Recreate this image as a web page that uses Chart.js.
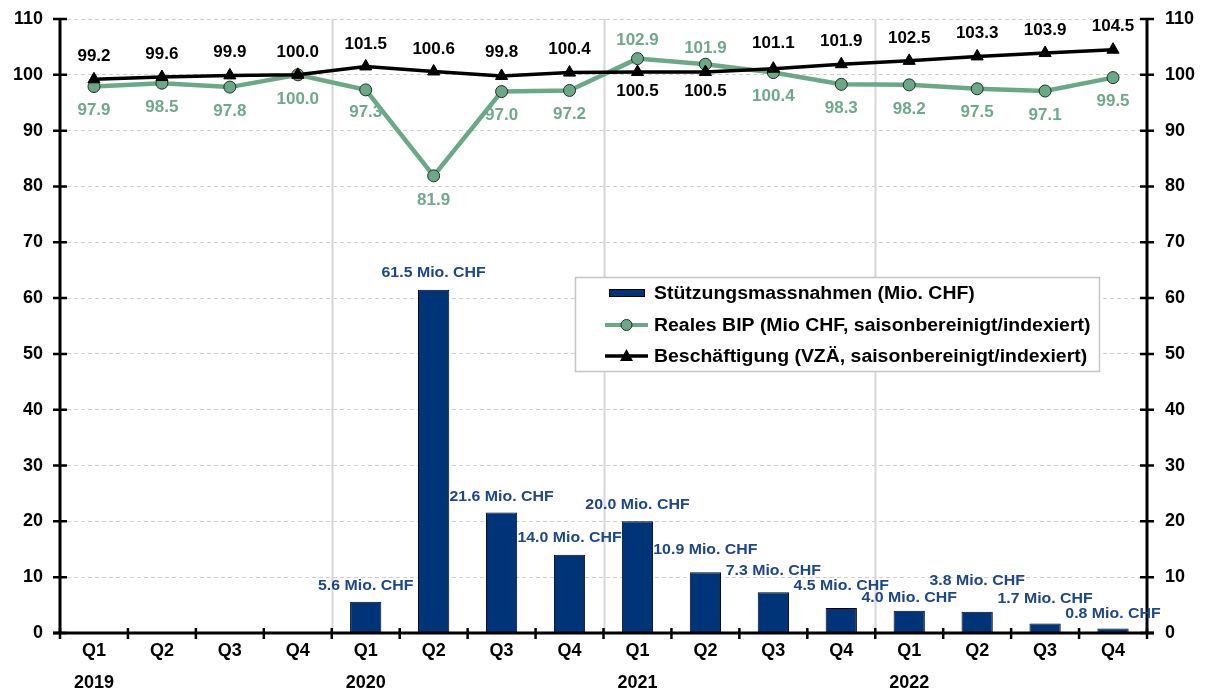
<!DOCTYPE html>
<html>
<head>
<meta charset="utf-8">
<script src="https://cdn.jsdelivr.net/npm/chart.js@4.4.0/dist/chart.umd.min.js"></script>
<style>
  html, body { margin: 0; background: #fff; }
  #wrap { width: 1207px; height: 689px; position: relative; }
</style>
</head>
<body>
<div id="wrap"><canvas id="chart"></canvas></div>
<script>
/* ── Data ───────────────────────────────────────────────────────────── */
const QUARTERS = ['Q1','Q2','Q3','Q4','Q1','Q2','Q3','Q4','Q1','Q2','Q3','Q4','Q1','Q2','Q3','Q4'];
const YEARS    = ['2019','','','','2020','','','','2021','','','','2022','','',''];

const STUETZUNG = [null, null, null, null, 5.6, 61.5, 21.6, 14.0, 20.0, 10.9, 7.3, 4.5, 4.0, 3.8, 1.7, 0.8];
const BIP       = [97.9, 98.5, 97.8, 100.0, 97.3, 81.9, 97.0, 97.2, 102.9, 101.9, 100.4, 98.3, 98.2, 97.5, 97.1, 99.5];
const VZAE      = [99.2, 99.6, 99.9, 100.0, 101.5, 100.6, 99.8, 100.4, 100.5, 100.5, 101.1, 101.9, 102.5, 103.3, 103.9, 104.5];

const LEGEND = [
  'Stützungsmassnahmen (Mio. CHF)',
  'Reales BIP (Mio CHF, saisonbereinigt/indexiert)',
  'Beschäftigung (VZÄ, saisonbereinigt/indexiert)'
];

/* ── Style ──────────────────────────────────────────────────────────── */
const FONT      = "'Liberation Sans', Arial, sans-serif";
const NAVY      = '#003478';
const NAVY_TXT  = '#1d4786';
const GREEN     = '#6ba888';
const GREEN_TXT = '#6fa98b';

// label placement (+ below / - above the point), px
const VZAE_OFF = [-23,-23,-23,-23,-22,-22,-24,-23, 19, 19,-25,-23,-23,-23,-23,-23];
const BIP_OFF  = [ 24, 24, 24, 24, 22, 24, 24, 24,-18,-16, 24, 24, 24, 24, 24, 24];
const BAR_LIFT = [ 0, 0, 0, 0, 16, 17, 16, 17, 17, 22, 21, 22, 13, 31, 25, 15];

const xLabels = QUARTERS.map((q, i) => [q, YEARS[i]]);

// text slightly wider than the font gives (reference is a bit stretched)
function wideText(ctx, text, x, y, sx) {
  ctx.save();
  ctx.translate(x, y);
  ctx.scale(sx, 1);
  ctx.fillText(text, 0, 0);
  ctx.restore();
}

/* ── Plugin: axes, grid, labels, legend ─────────────────────────────── */
const decor = {
  id: 'decor',
  beforeDatasetsDraw(chart) {
    const { ctx, chartArea: a } = chart;
    const w = a.width / QUARTERS.length;
    ctx.save();
    ctx.strokeStyle = '#d6d6d6';
    ctx.lineWidth = 2;
    [4, 8, 12].forEach(i => {
      const px = Math.round(a.left + i * w) + 0.5;
      ctx.beginPath(); ctx.moveTo(px, a.top); ctx.lineTo(px, a.bottom); ctx.stroke();
    });
    ctx.restore();
  },
  afterDatasetsDraw(chart) {
    const { ctx, chartArea: a, scales } = chart;
    const y = scales.y;
    const w = a.width / QUARTERS.length;
    ctx.save();

    // axes
    ctx.strokeStyle = '#000';
    ctx.lineWidth = 3;
    ctx.beginPath();
    ctx.moveTo(a.left, a.top); ctx.lineTo(a.left, a.bottom);
    ctx.moveTo(a.right, a.top); ctx.lineTo(a.right, a.bottom);
    ctx.moveTo(a.left - 7, a.bottom); ctx.lineTo(a.right + 7, a.bottom);
    ctx.stroke();
    ctx.lineWidth = 2.5;
    ctx.beginPath();
    for (let v = 0; v <= 110; v += 10) {
      const py = y.getPixelForValue(v);
      ctx.moveTo(a.left - 7, py);  ctx.lineTo(a.left + 7, py);
      ctx.moveTo(a.right - 7, py); ctx.lineTo(a.right + 7, py);
    }
    for (let i = 0; i <= QUARTERS.length; i++) {
      const px = a.left + i * w;
      ctx.moveTo(px, a.bottom - 5); ctx.lineTo(px, a.bottom + 6);
    }
    ctx.stroke();

    // bar labels
    ctx.textAlign = 'center';
    ctx.textBaseline = 'middle';
    ctx.font = `bold 15px ${FONT}`;
    ctx.fillStyle = NAVY_TXT;
    chart.getDatasetMeta(0).data.forEach((el, i) => {
      if (STUETZUNG[i] == null) return;
      wideText(ctx, STUETZUNG[i].toFixed(1) + ' Mio. CHF', el.x, el.y - BAR_LIFT[i], 1.06);
    });

    // line labels
    ctx.font = `bold 17px ${FONT}`;
    ctx.fillStyle = GREEN_TXT;
    chart.getDatasetMeta(1).data.forEach((el, i) => {
      ctx.fillText(BIP[i].toFixed(1), el.x, el.y + BIP_OFF[i]);
    });
    ctx.fillStyle = '#000';
    chart.getDatasetMeta(2).data.forEach((el, i) => {
      ctx.fillText(VZAE[i].toFixed(1), el.x, el.y + VZAE_OFF[i]);
    });

    // legend box
    const lx = 575, ly = 277, lw = 524, lh = 94;
    ctx.fillStyle = '#fff';
    ctx.fillRect(lx, ly, lw, lh);
    ctx.strokeStyle = '#c4c4c4';
    ctx.lineWidth = 1.5;
    ctx.strokeRect(lx + 0.5, ly + 0.5, lw, lh);

    const rows = [293, 325, 356];
    // bar swatch
    ctx.fillStyle = NAVY;
    ctx.fillRect(609, rows[0] - 4, 36, 8);
    ctx.strokeStyle = '#000'; ctx.lineWidth = 1;
    ctx.strokeRect(609.5, rows[0] - 3.5, 35, 7);
    // green swatch
    ctx.strokeStyle = GREEN; ctx.lineWidth = 4;
    ctx.beginPath(); ctx.moveTo(605, rows[1]); ctx.lineTo(648, rows[1]); ctx.stroke();
    ctx.fillStyle = GREEN; ctx.strokeStyle = '#1e2e25'; ctx.lineWidth = 1;
    ctx.beginPath(); ctx.arc(626.5, rows[1], 5.5, 0, Math.PI * 2); ctx.fill(); ctx.stroke();
    // black swatch
    ctx.strokeStyle = '#000'; ctx.lineWidth = 3.5;
    ctx.beginPath(); ctx.moveTo(605, rows[2]); ctx.lineTo(648, rows[2]); ctx.stroke();
    ctx.fillStyle = '#000';
    ctx.beginPath(); ctx.moveTo(626.5, rows[2] - 7); ctx.lineTo(633, rows[2] + 5); ctx.lineTo(620, rows[2] + 5); ctx.closePath(); ctx.fill();

    ctx.fillStyle = '#000';
    ctx.textAlign = 'left';
    ctx.font = `bold 18px ${FONT}`;
    LEGEND.forEach((t, i) => wideText(ctx, t, 654, rows[i] + 1, 1.08));

    ctx.restore();
  }
};

/* ── Chart ──────────────────────────────────────────────────────────── */
const tickFont = { family: FONT, size: 18, weight: 'bold' };
const fixY = w => s => { s.width = w; s.paddingTop = 0; s.paddingBottom = 0; };

new Chart(document.getElementById('chart'), {
  type: 'bar',
  data: {
    labels: xLabels,
    datasets: [
      {
        type: 'bar',
        label: LEGEND[0],
        data: STUETZUNG,
        backgroundColor: NAVY,
        borderColor: '#000',
        borderWidth: 1,
        barPercentage: 0.46,
        categoryPercentage: 1,
        yAxisID: 'y',
        order: 3,
      },
      {
        type: 'line',
        label: LEGEND[1],
        data: BIP,
        borderColor: GREEN,
        borderWidth: 4.5,
        pointStyle: 'circle',
        pointRadius: 6,
        pointBackgroundColor: GREEN,
        pointBorderColor: '#1e2e25',
        pointBorderWidth: 1,
        tension: 0,
        yAxisID: 'y2',
        order: 2,
      },
      {
        type: 'line',
        label: LEGEND[2],
        data: VZAE,
        borderColor: '#000',
        borderWidth: 3.5,
        pointStyle: 'triangle',
        pointRadius: 7,
        pointBackgroundColor: '#000',
        pointBorderColor: '#000',
        pointBorderWidth: 1,
        tension: 0,
        yAxisID: 'y2',
        order: 1,
      }
    ]
  },
  options: {
    responsive: true,
    maintainAspectRatio: false,
    animation: false,
    layout: { padding: { top: 19, left: 0, right: 0, bottom: 0 } },
    plugins: { legend: { display: false }, tooltip: { enabled: false } },
    scales: {
      x: {
        grid: { display: false, drawTicks: false },
        border: { display: false },
        ticks: {
          color: '#000', font: { ...tickFont, lineHeight: 1.78 },
          padding: 2, maxRotation: 0, autoSkip: false
        },
        afterFit: s => { s.height = 56; s.paddingLeft = 0; s.paddingRight = 0; }
      },
      y: {
        position: 'left',
        min: 0, max: 110,
        grid: { color: '#cfcfcf', lineWidth: 1, drawTicks: false },
        border: { display: false, dash: [4, 3] },
        ticks: { stepSize: 10, color: '#000', font: tickFont, padding: 17 },
        afterFit: fixY(60)
      },
      y2: {
        position: 'right',
        min: 0, max: 110,
        grid: { display: false, drawTicks: false },
        border: { display: false },
        ticks: { stepSize: 10, color: '#000', font: tickFont, padding: 18 },
        afterFit: fixY(60)
      }
    }
  },
  plugins: [decor]
});
</script>
</body>
</html>
